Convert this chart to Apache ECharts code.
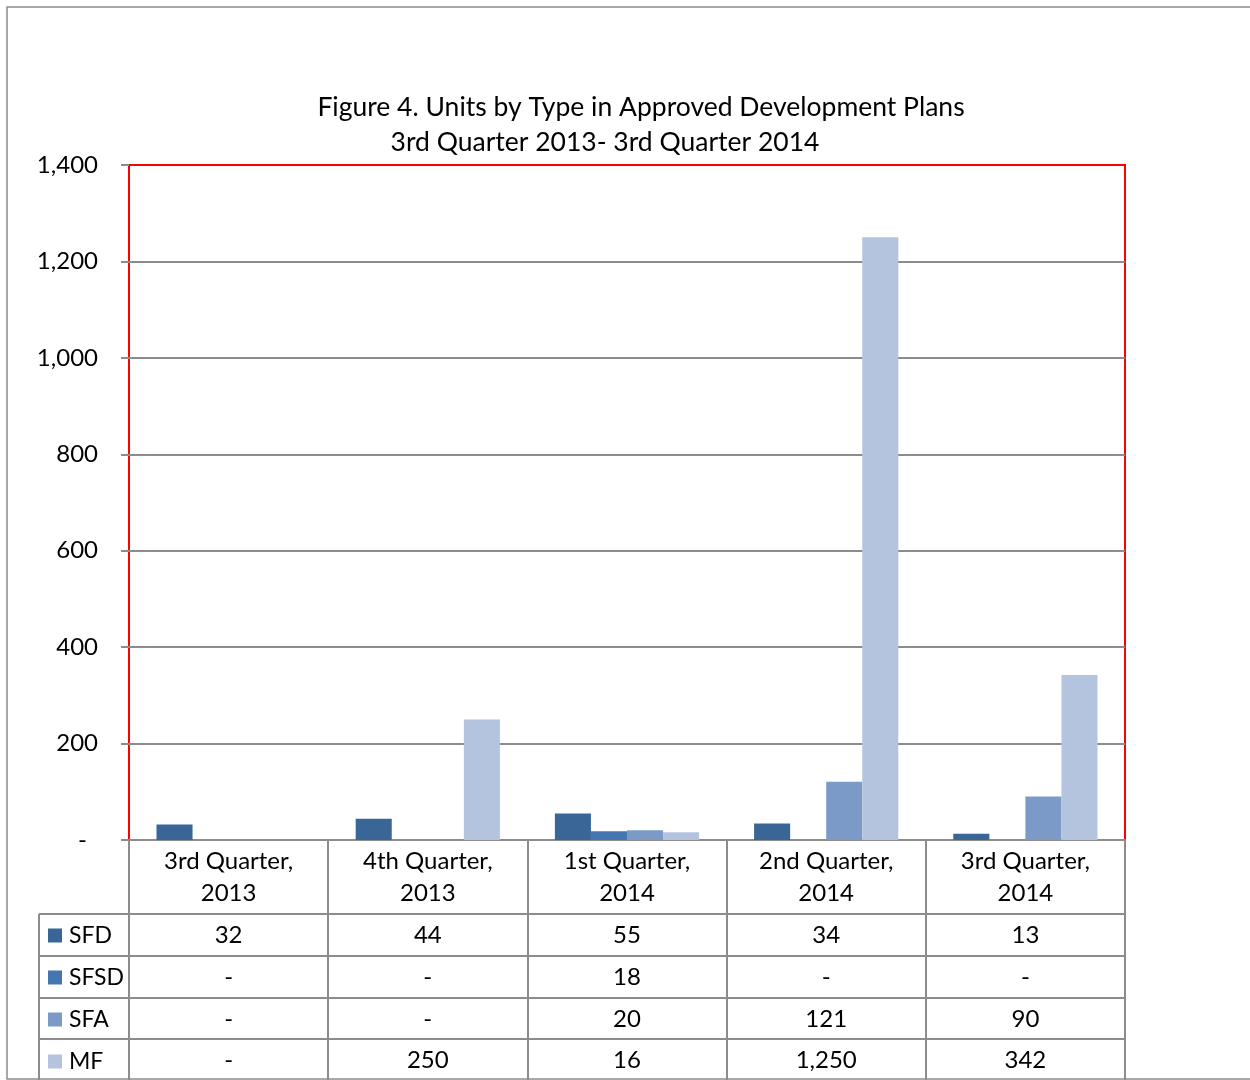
<!DOCTYPE html>
<html>
<head>
<meta charset="utf-8">
<title>Units by Type in Approved Development Plans</title>
<script src="https://cdn.jsdelivr.net/npm/echarts@6/dist/echarts.min.js"></script>
<style>
  html, body { margin: 0; padding: 0; background: #fff; }
  #chart { width: 1250px; height: 1080px; }
</style>
</head>
<body>
<div id="chart"></div>
<script>
// quarters on the x axis
const categories = ['3rd Quarter,\n2013', '4th Quarter,\n2013', '1st Quarter,\n2014', '2nd Quarter,\n2014', '3rd Quarter,\n2014'];
// units by type
const seriesNames = ['SFD', 'SFSD', 'SFA', 'MF'];
const sfd = [32, 44, 55, 34, 13];
const sfsd = [0, 0, 18, 0, 0];
const sfa = [0, 0, 20, 121, 90];
const mf = [0, 250, 16, 1250, 342];
const yTicks = [0, 200, 400, 600, 800, 1000, 1200, 1400];

const allSeries = [sfd, sfsd, sfa, mf];
const colors = ['#3A6597', '#4676B0', '#7B9AC8', '#B4C4DF'];
const FONT = 'Lato';
const GRID_COLOR = '#8C8C8C';

// Excel accounting style: zero shows as a dash
function fmt(v) {
  return v === 0 ? '-' : v.toLocaleString('en-US');
}

const chart = echarts.init(document.getElementById('chart'));

// one extra x axis per table row, so every cell sits under its category
const rowOffsets = [74, 116, 158, 199];
const rowAxes = allSeries.map((vals, i) => ({
  type: 'category',
  gridIndex: 0,
  position: 'bottom',
  offset: rowOffsets[i],
  data: vals.map(fmt),
  axisLine: { show: true, lineStyle: { color: GRID_COLOR, width: 2 } },
  axisTick: { show: false },
  axisLabel: { margin: 9, fontSize: 24, fontFamily: FONT, color: '#000' }
}));

const option = {
  backgroundColor: '#fff',
  animation: false,
  color: colors,
  graphic: [
    // outer chart frame
    { type: 'rect', shape: { x: 7, y: 7, width: 1300, height: 1072 },
      style: { fill: 'none', stroke: '#8C8C8C', lineWidth: 1.5 }, z: -1 },
    { type: 'text', x: 641, y: 107,
      style: { text: 'Figure 4. Units by Type in Approved Development Plans', font: '26.5px ' + FONT,
        fill: '#000', align: 'center', verticalAlign: 'middle' } },
    { type: 'text', x: 605, y: 142,
      style: { text: '3rd Quarter 2013- 3rd Quarter 2014', font: '26.5px ' + FONT,
        fill: '#000', align: 'center', verticalAlign: 'middle' } },
    // row-label column of the data table
    { type: 'line', shape: { x1: 39, y1: 914, x2: 39, y2: 1080 }, style: { stroke: GRID_COLOR, lineWidth: 2 } },
    { type: 'line', shape: { x1: 39, y1: 914, x2: 129, y2: 914 }, style: { stroke: GRID_COLOR, lineWidth: 2 } },
    { type: 'line', shape: { x1: 39, y1: 956, x2: 129, y2: 956 }, style: { stroke: GRID_COLOR, lineWidth: 2 } },
    { type: 'line', shape: { x1: 39, y1: 998, x2: 129, y2: 998 }, style: { stroke: GRID_COLOR, lineWidth: 2 } },
    { type: 'line', shape: { x1: 39, y1: 1039, x2: 129, y2: 1039 }, style: { stroke: GRID_COLOR, lineWidth: 2 } },
    // short gray tick stub left of the plot at zero
    { type: 'line', shape: { x1: 121, y1: 840, x2: 129, y2: 840 }, style: { stroke: GRID_COLOR, lineWidth: 2 } }
  ],
  legend: {
    orient: 'vertical',
    left: 48,
    top: 924,
    height: 200,
    padding: 0,
    itemWidth: 14,
    itemHeight: 14,
    itemGap: 19,
    icon: 'rect',
    data: seriesNames,
    textStyle: { fontSize: 23, lineHeight: 22, fontFamily: FONT, color: '#000', padding: [0, 0, 0, 2] }
  },
  grid: {
    left: 129,
    right: 125,
    top: 165,
    bottom: 240,
    show: true,
    borderColor: '#FF0000',
    borderWidth: 2
  },
  xAxis: [
    {
      type: 'category',
      data: categories,
      axisLine: { show: true, lineStyle: { color: GRID_COLOR, width: 2 } },
      axisTick: { show: true, length: 240, lineStyle: { color: GRID_COLOR, width: 2 } },
      axisLabel: { margin: 5, fontSize: 24, lineHeight: 32, fontFamily: FONT, color: '#000' }
    },
    ...rowAxes
  ],
  yAxis: {
    type: 'value',
    min: yTicks[0],
    max: yTicks[yTicks.length - 1],
    interval: 200,
    axisLine: { show: false },
    axisTick: { show: true, length: 8, lineStyle: { color: GRID_COLOR, width: 2 } },
    splitLine: { show: true, showMaxLine: false, lineStyle: { color: GRID_COLOR, width: 2 } },
    axisLabel: {
      margin: 31,
      fontSize: 24,
      fontFamily: FONT,
      color: '#000',
      formatter: v => v === 0 ? '{d|-}' : v.toLocaleString('en-US'),
      rich: { d: { fontSize: 24, fontFamily: FONT, color: '#000', padding: [0, 11, 0, 0] } }
    }
  },
  series: allSeries.map((vals, i) => ({
    name: seriesNames[i],
    type: 'bar',
    xAxisIndex: 0,
    data: vals,
    barGap: '0%',
    barCategoryGap: '27.6%',
    itemStyle: { color: colors[i] }
  }))
};

chart.setOption(option);
</script>
</body>
</html>
